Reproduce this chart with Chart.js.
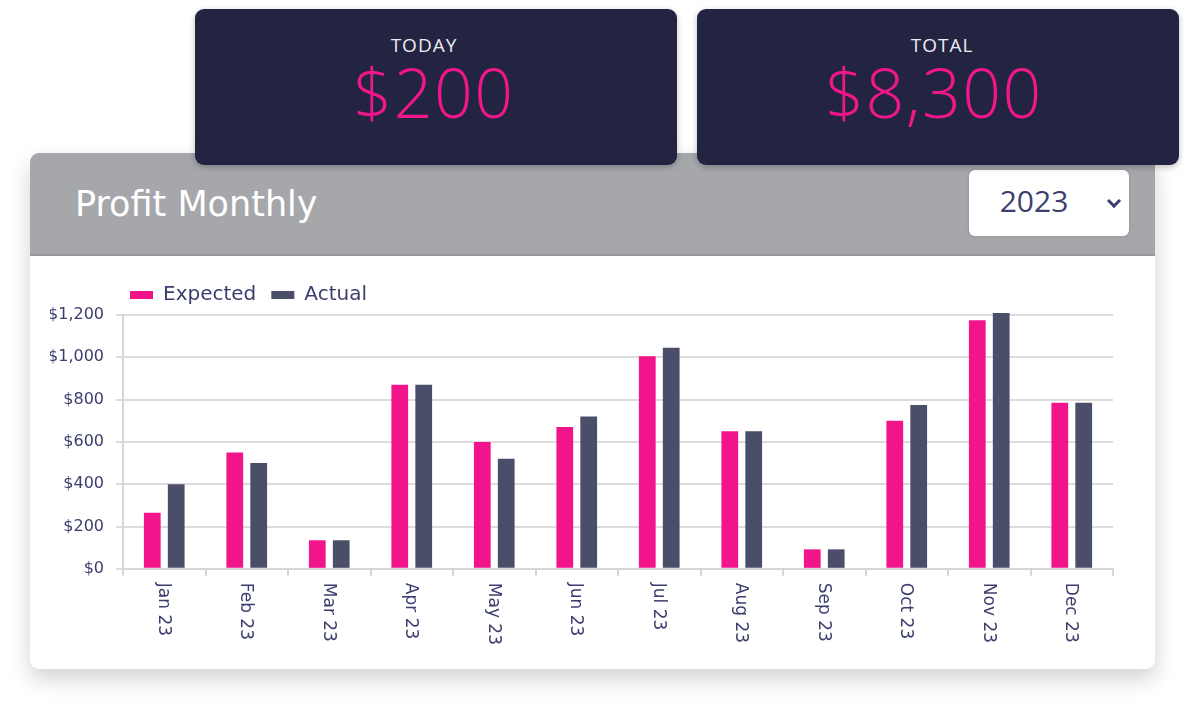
<!DOCTYPE html>
<html><head><meta charset="utf-8">
<script src="https://cdn.jsdelivr.net/npm/chart.js@4.4.0/dist/chart.umd.min.js"></script>
<style>
html,body{margin:0;padding:0;background:#fff;width:1193px;height:711px;overflow:hidden;font-family:'DejaVu Sans',sans-serif;}
.card{position:absolute;top:9px;width:482px;height:156px;background:#222441;border-radius:9px;z-index:3;box-shadow:0 2px 6px rgba(0,0,0,0.25);}
.card .lbl{position:absolute;left:0;right:0;top:25px;text-align:center;color:#ececf4;font-family:'Open Sans',sans-serif;font-size:19px;letter-spacing:1px;line-height:22px;}
.card .val{position:absolute;left:0;right:0;top:45px;text-align:center;color:#f2168b;font-family:'Open Sans',sans-serif;font-size:68px;font-weight:300;letter-spacing:1.5px;line-height:76px;}
.panel{position:absolute;left:30px;top:153px;width:1125px;height:516px;background:#fff;border-radius:9px;box-shadow:0 10px 22px rgba(0,0,0,0.18);overflow:hidden;z-index:1;}
.head{position:absolute;left:0;top:0;width:100%;height:101px;background:#a6a7ab;border-bottom:2px solid #96979b;}
.title{position:absolute;left:45px;top:34px;color:#fff;font-size:35px;line-height:35px;font-weight:400;white-space:nowrap;}
.sel{position:absolute;left:939px;top:17px;width:160px;height:66px;background:#fff;border-radius:6px;box-shadow:0 0 3px rgba(0,0,0,0.15);}
.sel .yr{position:absolute;left:0;width:130px;top:14px;text-align:center;color:#3b3f6e;font-family:'Open Sans',sans-serif;font-size:30px;line-height:34px;}
.sel .chev{position:absolute;left:140px;top:26px;width:7px;height:7px;border-right:3px solid #3b3f6e;border-bottom:3px solid #3b3f6e;transform:rotate(45deg);}
#wrap{position:absolute;left:30px;top:258px;width:1125px;height:409px;z-index:2;}
</style></head>
<body>
<div class="card" style="left:195px"><div class="lbl" style="left:-24px">TODAY</div><div class="val" style="left:-4px">$200</div></div>
<div class="card" style="left:697px"><div class="lbl" style="left:8px">TOTAL</div><div class="val" style="left:-8px">$8,300</div></div>
<div class="panel">
  <div class="head"><div class="title">Profit Monthly</div>
    <div class="sel"><div class="yr">2023</div><div class="chev"></div></div>
  </div>
</div>
<div id="wrap"><canvas id="c"></canvas></div>
<script>
const categories = ['Jan 23','Feb 23','Mar 23','Apr 23','May 23','Jun 23','Jul 23','Aug 23','Sep 23','Oct 23','Nov 23','Dec 23'];
const expectedValues = [265, 550, 135, 870, 600, 670, 1005, 650, 92, 700, 1175, 785];
const actualValues = [400, 500, 135, 870, 520, 720, 1045, 650, 92, 775, 1210, 785];
const yTicks = [0, 200, 400, 600, 800, 1000, 1200];

const navy = '#3b3e6d';
const font = 'DejaVu Sans';
const xFontSize = 17;

const legendShift = {
  id: 'legendShift',
  afterLayout(chart) {
    const lg = chart.legend;
    if (lg) { lg.left += 65; lg.right += 65; }
  }
};

// x labels read top-to-bottom (rotated clockwise)
const downLabels = {
  id: 'downLabels',
  afterDraw(chart) {
    const xs = chart.scales.x;
    const ctx = chart.ctx;
    ctx.save();
    ctx.fillStyle = navy;
    ctx.font = xFontSize + 'px "' + font + '"';
    ctx.textAlign = 'left';
    ctx.textBaseline = 'middle';
    categories.forEach((lab, i) => {
      const x = xs.getPixelForValue(i);
      const y = xs.top + 14;
      ctx.save();
      ctx.translate(x - 1, y);
      ctx.rotate(Math.PI / 2);
      ctx.fillText(lab, 0, 0);
      ctx.restore();
    });
    ctx.restore();
  }
};

new Chart(document.getElementById('c'), {
  type: 'bar',
  data: {
    labels: categories,
    datasets: [
      {label: 'Expected', data: expectedValues, backgroundColor: '#f2148a', barPercentage: 0.7, categoryPercentage: 0.58, clip: false},
      {label: 'Actual', data: actualValues, backgroundColor: '#4a4e69', barPercentage: 0.7, categoryPercentage: 0.58, clip: false}
    ]
  },
  options: {
    responsive: true,
    maintainAspectRatio: false,
    animation: false,
    layout: {padding: {left: 20, right: 42, top: 12, bottom: 17}},
    plugins: {
      legend: {
        position: 'top', align: 'start',
        labels: {boxWidth: 23, boxHeight: 8, padding: 15, color: navy, font: {family: font, size: 20}}
      },
      tooltip: {enabled: false}
    },
    scales: {
      x: {
        grid: {drawOnChartArea: false, drawTicks: true, tickLength: 7, color: '#d6d6d6', lineWidth: 2},
        border: {display: true, color: '#d6d6d6', width: 2},
        ticks: {maxRotation: 90, minRotation: 90, padding: 6, color: 'rgba(0,0,0,0)', font: {family: font, size: xFontSize}}
      },
      y: {
        min: 0, max: 1200,
        afterBuildTicks(scale) { scale.ticks = yTicks.map(v => ({value: v})); },
        afterFit(scale) { scale.width = 73; },
        grid: {color: '#dcdcdc', lineWidth: 2, tickLength: 7},
        border: {display: true, color: '#d6d6d6', width: 2},
        ticks: {padding: 12, color: navy, font: {family: font, size: 16},
          callback: v => '$' + Number(v).toLocaleString('en-US')}
      }
    }
  },
  plugins: [legendShift, downLabels]
});
</script>
</body></html>
